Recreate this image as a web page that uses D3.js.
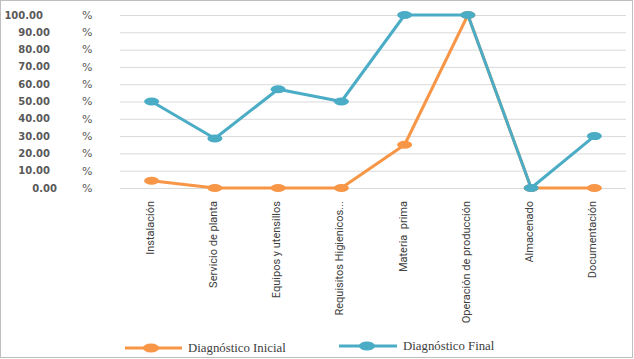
<!DOCTYPE html>
<html><head><meta charset="utf-8">
<script src="https://cdn.jsdelivr.net/npm/d3@7"></script>
<style>body{margin:0;background:#fff;} svg{display:block;}</style>
</head><body>
<script>
const categories = ["Instalación","Servicio de planta","Equipos y utensillos","Requisitos Higienicos...","Materia  prima","Operación de producción","Almacenado","Documentación"];
const inicial = [4.2, 0, 0, 0, 25, 100, 0, 0];
const final_ = [50, 28.6, 57.1, 50, 100, 100, 0, 30];
const yTicks = [0,10,20,30,40,50,60,70,80,90,100];
const seriesNames = ["Diagnóstico Inicial","Diagnóstico Final"];
const colors = ["#F79646","#4BACC6"];

const W=634,H=359;
const svg=d3.select("body").append("svg").attr("width",W).attr("height",H);
svg.append("rect").attr("x",0.5).attr("y",0.5).attr("width",632).attr("height",357)
  .attr("fill","#fff").attr("stroke","#bfbfbf");

const x=d3.scaleBand().domain(categories).range([120,626]);
const y=d3.scaleLinear().domain([0,100]).range([188,15]);

// gridlines
svg.append("g").selectAll("line").data(yTicks).join("line")
  .attr("x1",120).attr("x2",626).attr("y1",d=>y(d)+0.5).attr("y2",d=>y(d)+0.5)
  .attr("stroke","#d9d9d9").attr("stroke-width",1);

// y labels
const yl=svg.append("g").attr("font-family","'DejaVu Sans',Verdana,sans-serif")
  .attr("fill","#595959");
yl.selectAll("text.num").data(yTicks).join("text").attr("class","num")
  .attr("x",d=>{const s=d.toFixed(2);return 57-7*(s.length-4);})
  .attr("y",d=>y(d)).attr("dy","0.35em").attr("text-anchor","end")
  .attr("font-weight","bold").attr("font-size","10px")
  .text(d=>d.toFixed(2));
yl.selectAll("text.pct").data(yTicks).join("text").attr("class","pct")
  .attr("x",82).attr("y",d=>y(d)).attr("dy","0.35em").attr("font-size","11px").text("%");

// x labels
svg.append("g").selectAll("text").data(categories).join("text")
  .attr("transform",d=>`translate(${x(d)+x.bandwidth()/2+2},201) rotate(-90)`)
  .attr("text-anchor","end").attr("font-family","'Liberation Sans Narrow','Roboto',sans-serif")
  .attr("font-size","11px").attr("fill","#404040")
  .style("white-space","pre").text(d=>d);

const line=d3.line().x((d,i)=>x(categories[i])+x.bandwidth()/2).y(d=>y(d));
[inicial,final_].forEach((vals,k)=>{
  const g=svg.append("g");
  g.append("path").datum(vals).attr("d",line).attr("fill","none")
    .attr("stroke",colors[k]).attr("stroke-width",3).attr("stroke-linejoin","round");
  g.selectAll("ellipse").data(vals).join("ellipse")
    .attr("cx",(d,i)=>x(categories[i])+x.bandwidth()/2).attr("cy",d=>y(d))
    .attr("rx",7.5).attr("ry",4).attr("fill",colors[k]);
});

// legend
const leg=[{x1:125,x2:182,cx:151,y:348,tx:188},{x1:339,x2:397,cx:367,y:346,tx:403}];
leg.forEach((l,k)=>{
  svg.append("line").attr("x1",l.x1).attr("x2",l.x2).attr("y1",l.y).attr("y2",l.y)
    .attr("stroke",colors[k]).attr("stroke-width",3);
  svg.append("ellipse").attr("cx",l.cx).attr("cy",l.y).attr("rx",8).attr("ry",4.5).attr("fill",colors[k]);
  svg.append("text").attr("x",l.tx).attr("y",l.y).attr("dy","0.35em")
    .attr("font-family","'Liberation Serif',serif").attr("font-size","12.8px").attr("fill","#404040")
    .text(seriesNames[k]);
});
</script>
</body></html>
